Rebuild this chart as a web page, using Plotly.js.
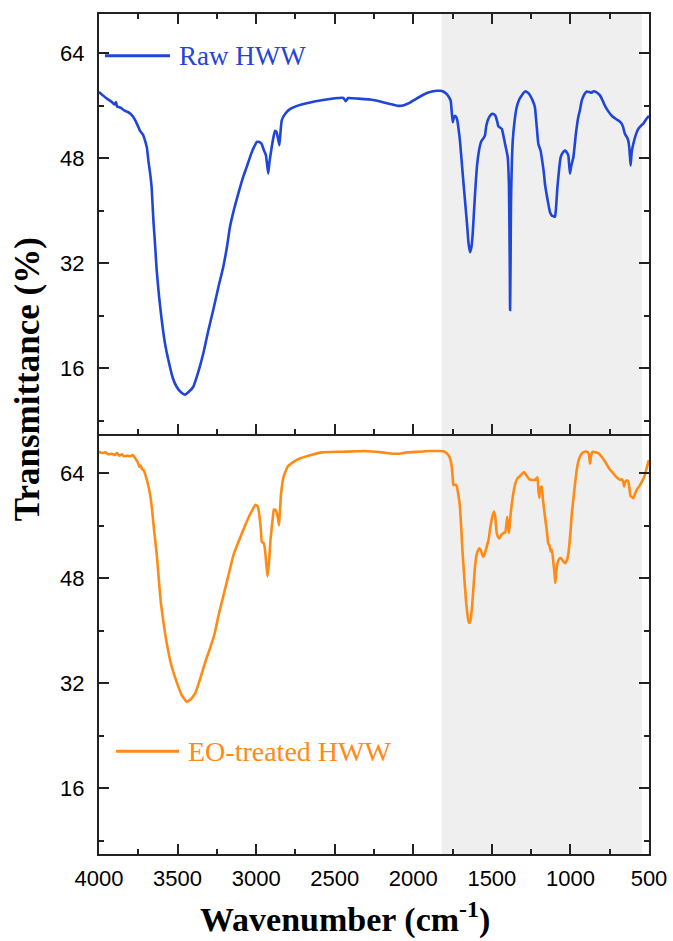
<!DOCTYPE html>
<html>
<head>
<meta charset="utf-8">
<script src="https://cdn.plot.ly/plotly-3.0.1.min.js"></script>
<style>html,body{margin:0;padding:0;background:#fff;}#chart{width:673px;height:941px;}</style>
</head>
<body>
<div id="chart"></div>
<script>
// ---------- DATA ----------
const seriesNames = ["Raw HWW", "EO-treated HWW"];

const rawWavenumber = [4000,3975,3950,3930,3915,3900,3892,3885,3870,3855,3840,3820,3800,3782,3765,3750,3739,3720,3707,3695,3686,3675,3665,3654,3645,3633,3618,3601,3580,3559,3530,3506,3480,3453,3430,3400,3370,3336,3305,3273,3240,3209,3185,3167,3140,3114,3085,3060,3030,3010,2996,2980,2965,2950,2938,2930,2923,2915,2901,2890,2880,2870,2862,2852,2845,2837,2815,2785,2740,2678,2573,2445,2430,2415,2350,2254,2200,2148,2095,2060,2021,1980,1936,1894,1850,1830,1810,1787,1770,1762,1755,1749,1742,1735,1727,1720,1712,1703,1682,1660,1648,1639,1630,1622,1607,1593,1575,1565,1550,1544,1535,1523,1505,1495,1480,1474,1465,1459,1448,1437,1425,1416,1399,1394,1391,1386,1384,1381,1378,1367,1355,1342,1325,1310,1289,1270,1257,1240,1226,1215,1204,1190,1183,1170,1162,1150,1141,1130,1119,1110,1098,1090,1083,1070,1062,1048,1034,1020,1013,1008,1003,995,981,965,950,940,928,910,896,880,865,855,844,830,812,795,780,760,737,710,690,674,665,653,640,632,625,617,610,600,585,568,550,536,520,500];
const rawTransmittance = [58.1,57.6,57.1,56.8,56.5,56.2,56.6,55.9,55.8,55.6,55.3,55.1,54.8,54.3,53.6,52.8,52.2,51.6,50.7,49.6,47.7,45.8,43.6,38.6,35.5,31.0,27.0,23.4,19.8,17.3,14.5,13.2,12.4,12.0,12.4,13.2,15.3,18.3,21.7,24.9,28.4,31.5,34.6,37.5,40.3,42.6,45.0,46.7,48.8,49.9,50.5,50.5,50.2,49.2,48.5,47.0,45.7,47.5,49.7,51.2,52.2,52.0,51.2,50.0,52.0,53.8,54.8,55.5,56.0,56.4,56.9,57.2,56.7,57.2,57.1,56.9,56.6,56.3,56.0,56.1,56.5,57.1,57.7,58.1,58.3,58.3,58.2,57.8,57.2,56.8,55.0,53.5,54.2,54.5,54.3,53.8,52.5,50.7,44.6,38.6,35.0,33.7,34.5,36.5,42.6,47.2,50.0,50.7,51.2,51.5,53.0,54.0,54.7,54.8,54.6,54.3,53.5,52.9,52.7,52.5,51.3,50.2,48.2,46.0,43.6,32.0,24.9,32.0,41.6,50.7,53.8,55.8,57.0,57.6,58.2,58.0,57.6,56.8,55.8,53.0,50.2,49.2,48.2,46.0,44.1,42.3,41.1,39.8,39.3,39.2,39.1,41.0,43.6,46.8,48.2,48.9,49.2,48.8,48.4,47.0,45.7,46.8,48.2,51.8,54.3,55.3,56.8,57.8,58.2,58.1,58.0,58.2,58.2,58.0,57.6,56.8,56.0,55.2,54.5,54.0,53.7,53.3,52.8,51.7,51.2,50.7,49.5,46.9,49.0,50.2,51.5,52.5,53.0,53.3,53.9,54.5];

const eoWavenumber = [4000,3980,3960,3940,3920,3900,3885,3870,3855,3840,3820,3800,3784,3770,3755,3742,3735,3725,3715,3700,3690,3675,3662,3648,3633,3620,3606,3585,3565,3540,3510,3475,3442,3420,3387,3355,3319,3290,3264,3240,3210,3175,3141,3105,3073,3040,3020,3005,2990,2983,2970,2964,2950,2940,2928,2918,2909,2895,2887,2875,2868,2860,2854,2848,2841,2825,2800,2760,2718,2650,2582,2450,2308,2200,2130,2090,2040,1960,1899,1830,1800,1777,1765,1755,1748,1745,1735,1724,1715,1703,1686,1665,1650,1643,1636,1626,1607,1595,1580,1570,1560,1554,1545,1533,1520,1512,1495,1486,1478,1469,1460,1452,1440,1427,1415,1402,1397,1391,1385,1380,1363,1350,1338,1320,1305,1295,1280,1261,1240,1225,1210,1204,1198,1192,1183,1175,1162,1150,1141,1133,1125,1118,1108,1100,1096,1090,1083,1070,1061,1048,1034,1022,1013,1000,991,975,960,945,928,910,896,885,878,875,870,862,854,840,822,800,780,755,727,710,695,684,674,665,658,652,645,638,632,625,617,608,600,590,578,560,546,530,515,504,500];
const eoTransmittance = [67.3,67.1,67.2,66.9,67.0,66.8,67.1,66.7,66.9,66.6,66.7,66.6,66.8,66.3,65.8,65.0,65.2,64.6,64.5,63.4,62.5,60.8,58.4,55.0,51.8,48.0,44.2,40.5,37.6,34.8,32.5,30.3,29.2,29.5,30.5,32.8,35.6,37.6,39.6,42.3,45.2,48.6,51.8,54.0,55.9,57.7,58.6,59.2,59.0,58.2,55.5,53.6,53.3,51.5,48.3,50.5,53.8,57.0,58.5,58.4,57.9,57.0,56.1,58.5,61.0,63.5,65.0,65.8,66.3,66.8,67.2,67.3,67.4,67.2,67.0,67.0,67.2,67.3,67.4,67.4,67.3,66.8,66.2,65.0,63.0,62.2,62.3,62.1,61.0,58.9,51.8,44.7,41.6,41.2,41.6,43.7,49.8,51.8,52.6,52.3,51.5,51.3,51.8,52.8,54.0,55.4,57.6,58.2,57.3,54.9,54.3,54.1,54.6,54.9,55.0,57.4,56.0,54.9,56.5,57.9,61.0,62.5,63.2,63.6,64.0,64.2,63.7,63.1,63.0,63.0,63.4,61.5,60.3,61.8,62.0,60.0,57.4,55.2,53.3,53.0,52.1,52.4,50.3,48.5,47.3,49.0,50.3,51.0,51.1,50.7,50.3,50.8,51.8,55.0,57.9,61.5,64.5,66.2,67.0,67.3,67.3,67.1,66.0,65.5,66.5,67.2,67.3,67.2,67.1,66.5,65.8,64.8,64.0,63.5,63.2,63.0,63.1,62.8,62.0,62.6,62.9,62.9,62.8,61.8,60.5,60.4,60.2,60.8,61.5,62.1,62.7,63.5,64.8,65.8,66.0];

const xTickVals = [4000,3500,3000,2500,2000,1500,1000,500];
const yTickVals = [16,32,48,64];
const shadedRegion = [1820, 545];
const xRange = [4000, 500];
const yRange = [6, 70];

// ---------- STYLE ----------
const blue = "#1f45d9";
const orange = "#ff8a14";
const tickFont = {family: "Liberation Sans, Arial, sans-serif", size: 22, color: "#000"};

function xAxisBase() {
  return {
    range: xRange, autorange: false,
    tickvals: xTickVals, ticktext: xTickVals.map(String),
    ticks: "inside", ticklen: 10, tickwidth: 2, tickcolor: "#222",
    minor: {dtick: 250, tick0: 0, ticks: "inside", ticklen: 5, tickwidth: 2, tickcolor: "#222"},
    showline: true, linewidth: 2, linecolor: "#222",
    showgrid: false, zeroline: false,
    tickfont: tickFont
  };
}
function yAxisBase() {
  return {
    range: yRange, autorange: false,
    tickvals: yTickVals, ticktext: yTickVals.map(String),
    ticks: "inside", ticklen: 10, tickwidth: 2, tickcolor: "#222",
    minor: {dtick: 8, tick0: 0, ticks: "inside", ticklen: 5, tickwidth: 2, tickcolor: "#222"},
    showline: true, linewidth: 2, linecolor: "#222", mirror: "ticks",
    showgrid: false, zeroline: false,
    tickfont: tickFont, ticklabelstandoff: 8
  };
}

const lineShape = {shape: "spline", smoothing: 0.4};
const traces = [
  {x: rawWavenumber, y: rawTransmittance, xaxis: "x2", yaxis: "y2", type: "scatter", mode: "lines",
   name: seriesNames[0], line: Object.assign({color: blue, width: 2.6}, lineShape), showlegend: false},
  {x: eoWavenumber, y: eoTransmittance, xaxis: "x", yaxis: "y", type: "scatter", mode: "lines",
   name: seriesNames[1], line: Object.assign({color: orange, width: 2.6}, lineShape), showlegend: false}
];

const xaxis = Object.assign(xAxisBase(), {anchor: "y", domain: [0, 1], mirror: false, ticklabelstandoff: 4});
const xaxis2 = Object.assign(xAxisBase(), {anchor: "y2", domain: [0, 1], matches: "x", mirror: "ticks", showticklabels: false});
const yaxis = Object.assign(yAxisBase(), {anchor: "x", domain: [0, 0.5]});
const yaxis2 = Object.assign(yAxisBase(), {anchor: "x2", domain: [0.5, 1]});

const layout = {
  width: 673, height: 941,
  margin: {l: 99, r: 24, t: 14, b: 87, pad: 0},
  paper_bgcolor: "#fff", plot_bgcolor: "#fff",
  showlegend: false,
  xaxis: xaxis, xaxis2: xaxis2, yaxis: yaxis, yaxis2: yaxis2,
  shapes: [
    {type: "rect", xref: "x", yref: "paper", x0: shadedRegion[0], x1: shadedRegion[1], y0: 0, y1: 1,
     fillcolor: "#efefef", line: {width: 0}, layer: "below"},
    {type: "line", xref: "paper", yref: "paper", x0: 0.011, x1: 0.129, y0: 0.9503, y1: 0.9503,
     line: {color: blue, width: 3}},
    {type: "line", xref: "paper", yref: "paper", x0: 0.031, x1: 0.1455, y0: 0.1223, y1: 0.1223,
     line: {color: orange, width: 3}}
  ],
  annotations: [
    {text: seriesNames[0], xref: "paper", yref: "paper", x: 0.141, y: 0.9503, xanchor: "left", yanchor: "middle",
     showarrow: false, font: {family: "Liberation Serif, Times New Roman, serif", size: 27, color: blue}},
    {text: seriesNames[1], xref: "paper", yref: "paper", x: 0.159, y: 0.1223, xanchor: "left", yanchor: "middle",
     showarrow: false, font: {family: "Liberation Serif, Times New Roman, serif", size: 28, color: orange}},
    {text: "<b>Transmittance (%)</b>", xref: "paper", yref: "paper", x: -0.131, y: 0.565, xanchor: "center", yanchor: "middle",
     textangle: -90, showarrow: false, font: {family: "Liberation Serif, Times New Roman, serif", size: 35, color: "#000"}},
    {text: "<b>Wavenumber (cm<sup>-1</sup>)</b>", xref: "paper", yref: "paper", x: 0.447, y: -0.076, xanchor: "center", yanchor: "middle",
     showarrow: false, font: {family: "Liberation Serif, Times New Roman, serif", size: 34, color: "#000"}}
  ]
};

Plotly.newPlot("chart", traces, layout, {staticPlot: true, displayModeBar: false});
</script>
</body>
</html>
